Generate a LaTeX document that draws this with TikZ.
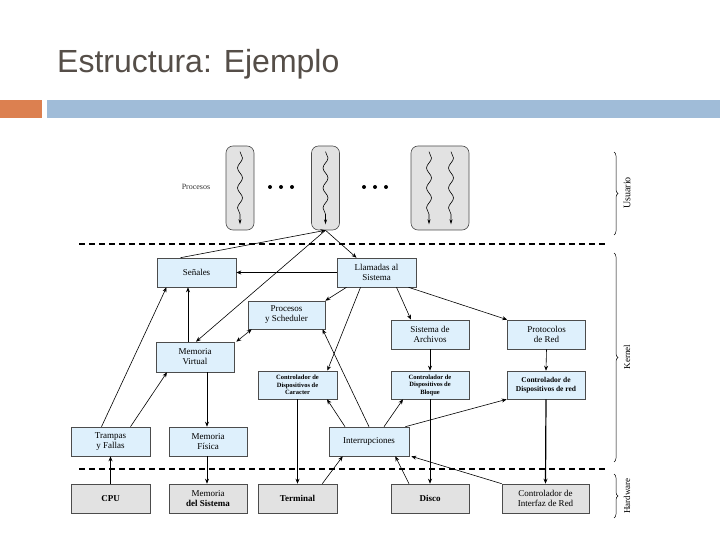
\documentclass[tikz,border=0pt]{standalone}
\usepackage{fontspec}
\setmainfont{Liberation Serif}
\newfontfamily\sansf{Liberation Sans}
\usetikzlibrary{decorations.pathmorphing,decorations.pathreplacing,arrows.meta}
\definecolor{kfill}{RGB}{222,240,252}
\definecolor{hfill}{RGB}{226,226,226}
\definecolor{titlec}{RGB}{85,78,72}
\definecolor{orangebar}{RGB}{220,128,80}
\definecolor{bluebar}{RGB}{160,188,216}
\begin{document}
\begin{tikzpicture}[x=1pt,y=-1pt,
  box/.style={draw=black!70,line width=0.6pt,align=center,inner sep=1pt,font=\fontsize{9}{10}\selectfont,minimum width=79pt,minimum height=29pt},
  kbox/.style={box,fill=kfill},
  hbox/.style={box,fill=hfill},
  proc/.style={draw=black!70,fill=hfill,rounded corners=7pt,minimum height=84pt,line width=0.6pt},
  arr/.style={-{Stealth[length=5pt,width=4pt]},line width=0.6pt},
  wave/.style={-{Stealth[length=5pt,width=3pt]},line width=0.6pt,decorate,decoration={snake,amplitude=2.5pt,segment length=20pt,post length=8pt}},
  dot/.style={circle,fill=black,inner sep=0,minimum size=4pt},
  sep/.style={dashed,line width=1.2pt,dash pattern=on 6pt off 4pt}]
\useasboundingbox (0,0) rectangle (720,540);
\node[anchor=base west,font=\sansf\fontsize{32}{34}\selectfont,text=titlec,inner sep=0] (title) at (57,73) {Estructura: Ejemplo};
\fill[orangebar] (0,100) rectangle (42,118);
\fill[bluebar] (47,100) rectangle (720,118);
% processes
\node[proc,minimum width=28pt] (p1) at (240,188) {};
\node[proc,minimum width=28pt] (p2) at (325.5,188) {};
\node[proc,minimum width=58pt] (p3) at (440,188) {};
\node[font=\fontsize{8}{9}\selectfont,text=black!80] (proclbl) at (196,187) {Procesos};
\foreach \x [count=\i] in {270,281,292,364,375,386} \node[dot] (dt\i) at (\x,187) {};
\draw[wave] ([yshift=-6]p1.north) -- ([yshift=6]p1.south);
\draw[wave] ([yshift=-6]p2.north) -- ([yshift=6]p2.south);
\draw[wave] ([xshift=-11,yshift=-6]p3.north) -- ([xshift=-11,yshift=6]p3.south);
\draw[wave] ([xshift=11,yshift=-6]p3.north) -- ([xshift=11,yshift=6]p3.south);
% separators
\draw[sep] (79,244) -- (605,244);
\draw[sep] (79,469) -- (605,469);
\draw[line width=0.5pt,decorate,decoration={brace,amplitude=4pt}] (614,152) -- (614,235);
\draw[line width=0.5pt,decorate,decoration={brace,amplitude=4pt}] (614,253) -- (614,462);
\draw[line width=0.5pt,decorate,decoration={brace,amplitude=4pt}] (614,474) -- (614,518);
\node[rotate=90,font=\fontsize{10}{10}\selectfont] (lu) at (627,193) {Usuario};
\node[rotate=90,font=\fontsize{9}{9}\selectfont] (lk) at (627,357) {Kernel};
\node[rotate=90,font=\fontsize{9}{9}\selectfont] (lh) at (627,496) {Hardware};
% kernel boxes
\node[kbox] (sen) at (196.5,272.5) {Señales};
\node[kbox] (lla) at (376.5,272.5) {Llamadas al\\Sistema};
\node[kbox,minimum width=77pt,minimum height=28pt] (ps) at (286.5,315) {Procesos\\y Scheduler};
\node[kbox,minimum width=78pt] (sa) at (430,334.5) {Sistema de\\Archivos};
\node[kbox,minimum width=78pt] (pr) at (546.5,334.5) {Protocolos\\de Red};
\node[kbox,minimum width=78pt,minimum height=30pt] (mv) at (195,357) {Memoria\\Virtual};
\node[kbox,minimum height=28pt,font=\bfseries\fontsize{6.5}{7.5}\selectfont] (car) at (297.5,385) {Controlador de\\Dispositivos de\\Caracter};
\node[kbox,minimum width=78pt,minimum height=28pt,font=\bfseries\fontsize{6.5}{7.5}\selectfont] (blo) at (430,385) {Controlador de\\Dispositivos de\\Bloque};
\node[kbox,minimum width=78pt,minimum height=28pt,font=\bfseries\fontsize{7.5}{9}\selectfont] (cr) at (546,385) {Controlador de\\Dispositivos de red};
\node[kbox] (tr) at (110.5,441.5) {Trampas\\y Fallas};
\node[kbox,minimum width=78pt] (mf) at (208,441.5) {Memoria\\Física};
\node[kbox,minimum width=80pt] (int) at (369,441.5) {Interrupciones};
% hardware boxes
\node[hbox,font=\bfseries\fontsize{9}{10}\selectfont] (cpu) at (110.5,498.5) {CPU};
\node[hbox,minimum width=78pt] (ms) at (208,498.5) {Memoria\\\textbf{del Sistema}};
\node[hbox,font=\bfseries\fontsize{9}{10}\selectfont] (ter) at (297.5,498.5) {Terminal};
\node[hbox,minimum width=78pt,font=\bfseries\fontsize{9}{10}\selectfont] (dis) at (430,498.5) {Disco};
\node[hbox,minimum width=87pt] (nic) at (545.5,498.5) {Controlador de\\Interfaz de Red};
% connectors
\draw[arr] ([xshift=-16]sen.north) -- (p2.south);
\draw[arr] (p2.south) -- ([xshift=-20]lla.north);
\draw[arr] (p2.south) -- ([xshift=1]mv.north);
\draw[arr] (lla.west) -- (sen.east);
\draw[arr] ([xshift=-30]lla.south) -- (ps.north east);
\draw[arr] ([xshift=-16]lla.south) -- ([xshift=-10]car.north east);
\draw[arr] ([xshift=20]lla.south) -- ([xshift=-19]sa.north);
\draw[arr] ([xshift=32]lla.south) -- (pr.north west);
\draw[arr] ([xshift=-9]tr.north) -- ([xshift=-30]sen.south);
\draw[arr] ([xshift=-7]mv.north) -- ([xshift=-8.5]sen.south);
\draw[arr] ([xshift=20]tr.north) -- ([xshift=-28]mv.south);
\draw[arr,{Stealth[length=5pt,width=4pt]}-{Stealth[length=5pt,width=4pt]}] ([xshift=4]ps.south west) -- ([xshift=2]mv.north east);
\draw[arr] (int.north) -- ([xshift=36]ps.south);
\draw[arr] ([xshift=12]mv.south) -- ([xshift=-1]mf.north);
\draw[arr] ([xshift=-1]mf.south) -- ([xshift=-1]ms.north);
\draw[arr,line width=1.2pt] (cpu.north) -- (tr.south);
\draw[arr] (car.south) -- (ter.north);
\draw[arr] ([xshift=-15]ter.north east) -- ([xshift=14]int.south west);
\draw[arr] ([xshift=-24]int.north) -- ([xshift=29.5]car.south);
\draw[arr] ([xshift=15]int.north) -- ([xshift=-27]blo.south);
\draw[arr] ([xshift=-4]int.north east) -- (cr.south west);
\draw[arr] (sa.south) -- (blo.north);
\draw[arr] (blo.south) -- (dis.north);
\draw[arr] ([xshift=-21]dis.north) -- ([xshift=-14]int.south east);
\draw[arr] (pr.south) -- (cr.north);
\draw[arr,line width=1.2pt] (cr.south) -- (nic.north);
\draw[arr] (nic.north west) -- ([xshift=2]int.south east);
\end{tikzpicture}
\end{document}
